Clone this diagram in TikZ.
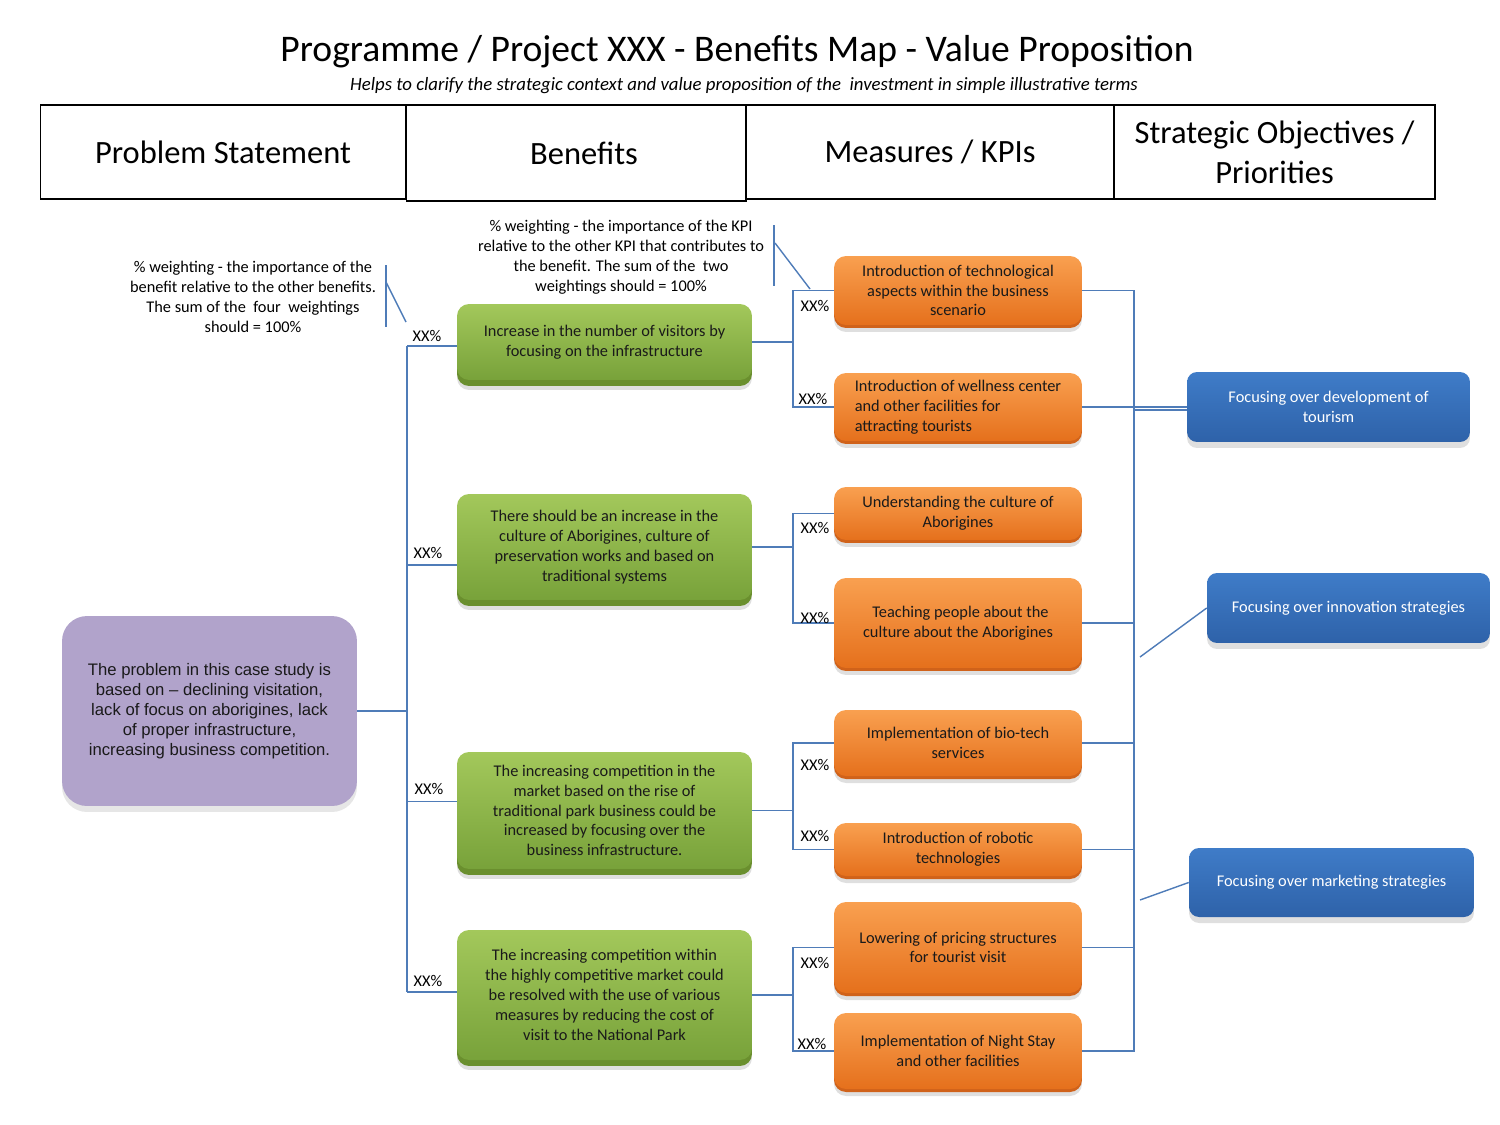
\documentclass[tikz,border=0pt]{standalone}
\usepackage{fontspec}
\setmainfont{Carlito}
\newfontfamily\arialfont{Liberation Sans}
\usetikzlibrary{positioning,shadows,calc}
\definecolor{linkblue}{HTML}{4F7CB8}
\definecolor{gtop}{HTML}{A3C85B}
\definecolor{gbot}{HTML}{78A23A}
\definecolor{gdark}{HTML}{6A8F2E}
\definecolor{otop}{HTML}{F9A050}
\definecolor{obot}{HTML}{E5701C}
\definecolor{odark}{HTML}{D0621A}
\definecolor{btop}{HTML}{3F7CC8}
\definecolor{bbot}{HTML}{2E62A9}
\definecolor{probfill}{HTML}{B1A3CB}
\definecolor{txt}{HTML}{1A1A1A}

\begin{document}
\begin{tikzpicture}[
  x=0.02cm, y=-0.02cm,
  hdr/.style={draw, line width=0.6pt, align=center, inner sep=0pt, font=\fontsize{18.5}{22.7}\selectfont},
  body/.style={align=center, text=txt, inner sep=2pt, font=\fontsize{9.3}{11.3}\selectfont},
  problem/.style={body, fill=probfill, rounded corners=0.5cm, minimum width=5.9cm, minimum height=3.8cm,
    font=\arialfont\fontsize{9.5}{11.3}\selectfont,
    drop shadow={opacity=0.2, shadow xshift=0, shadow yshift=-0.12cm}},
  benefit/.style={body, top color=gtop, bottom color=gbot, rounded corners=0.24cm, minimum width=5.9cm,
    drop shadow={opacity=0.25, shadow xshift=0, shadow yshift=-0.2cm},
    general shadow={fill=gdark, shadow yshift=-0.12cm}},
  kpi/.style={body, top color=otop, bottom color=obot, rounded corners=0.24cm, minimum width=4.96cm,
    drop shadow={opacity=0.25, shadow xshift=0, shadow yshift=-0.14cm},
    general shadow={fill=odark, shadow yshift=-0.06cm}},
  objective/.style={body, text=white, top color=btop, bottom color=bbot, rounded corners=0.2cm,
    minimum width=5.66cm, minimum height=1.4cm,
    drop shadow={opacity=0.25, shadow xshift=0, shadow yshift=-0.12cm}},
  note/.style={body, text=black},
  pct/.style={font=\fontsize{9.3}{11.3}\selectfont, inner sep=0pt},
  link/.style={draw=linkblue, line width=0.8pt}
]
\useasboundingbox (0,0) rectangle (1500,1125);

% title
\node[font=\fontsize{21.4}{25}\selectfont] (title) at (737,52) {Programme / Project XXX - Benefits Map - Value Proposition};
\node[font=\itshape\fontsize{10.7}{12.5}\selectfont] (subtitle) at (744,86) {Helps to clarify the strategic context and value proposition of the~ investment in simple illustrative terms};

% column headers
\node[hdr, minimum width=7.32cm, minimum height=1.88cm] (hprob) at (223,152) {Problem Statement};
\node[hdr, minimum width=6.8cm, minimum height=1.92cm] (hben) at (576,153) {\hspace{0.32cm}Benefits};
\node[hdr, minimum width=7.36cm, minimum height=1.88cm] (hkpi) at (930,152) {Measures / KPIs};
\node[hdr, minimum width=6.42cm, minimum height=1.88cm] (hobj) at (1274.5,152) {Strategic Objectives /\\Priorities};

% problem
\node[problem] (prob) at (209.5,711) {The problem in this case study is\\based on \textendash{} declining visitation,\\lack of focus on aborigines, lack\\of proper infrastructure,\\increasing business competition.};

% benefits
\node[benefit, minimum height=1.52cm] (ben1) at (604.5,342) {Increase in the number of visitors by\\focusing on the infrastructure};
\node[benefit, minimum height=2.12cm] (ben2) at (604.5,547) {There should be an increase in the\\culture of Aborigines, culture of\\preservation works and based on\\traditional systems};
\node[benefit, minimum height=2.34cm] (ben3) at (604.5,810.5) {The increasing competition in the\\market based on the rise of\\traditional park business could be\\increased by focusing over the\\business infrastructure.};
\node[benefit, minimum height=2.6cm] (ben4) at (604.5,995) {The increasing competition within\\the highly competitive market could\\be resolved with the use of various\\measures by reducing the cost of\\visit to the National Park};

% measures / KPIs
\node[kpi, minimum height=1.38cm] (kpi1) at (958,290.5) {Introduction of technological\\aspects within the business\\scenario};
\node[kpi, minimum height=1.36cm, align=left] (kpi2) at (958,407) {Introduction of wellness center\\and other facilities for\\attracting tourists};
\node[kpi, minimum height=1.06cm] (kpi3) at (958,513.5) {Understanding the culture of\\Aborigines};
\node[kpi, minimum height=1.8cm] (kpi4) at (958,623) {\hspace{0.1cm}Teaching people about the\\culture about the Aborigines};
\node[kpi, minimum height=1.32cm] (kpi5) at (958,743) {Implementation of bio-tech\\services};
\node[kpi, minimum height=1.06cm] (kpi6) at (958,849.5) {Introduction of robotic\\technologies};
\node[kpi, minimum height=1.82cm] (kpi7) at (958,947.5) {Lowering of pricing structures\\for tourist visit};
\node[kpi, minimum height=1.52cm] (kpi8) at (958,1051) {Implementation of Night Stay\\and other facilities};

% strategic objectives
\node[objective] (obj1) at (1328.5,407) {Focusing over development of\\tourism};
\node[objective] (obj2) at (1348.5,608) {Focusing over innovation strategies};
\node[objective, minimum width=5.7cm, minimum height=1.38cm] (obj3) at (1331.5,882.5) {Focusing over marketing strategies};

% weighting notes
\node[note] (noteben) at (253,297) {\% weighting - the importance of the\\benefit relative to the other benefits.\\The sum of the~ four~ weightings\\should = 100\%};
\node[note] (notekpi) at (621,257) {\% weighting - the importance of the KPI\\relative to the other KPI that contributes to\\the benefit. The sum of the~ two\\weightings should = 100\%};
\coordinate (barben) at (386,265);
\coordinate (tipben) at (406,322);
\coordinate (barkpi) at (774,225);
\coordinate (tipkpi) at (810,289);
\draw[link, line width=1pt] (barben) -- ++(0,62);
\draw[link] ($(barben)+(0,17)$) -- (tipben);
\draw[link, line width=1pt] (barkpi) -- ++(0,61);
\draw[link] ($(barkpi)+(1,18)$) -- (tipkpi);

% problem -> benefits
\coordinate (bbus) at (407,711);
\draw[link] (prob.east) -- (bbus);
\draw[link] (ben1.west -| bbus) ++(0,4) coordinate (bb1) -- ($(bb1 |- ben4.west)+(0,-3)$);
\foreach \b/\dy in {1/4, 2/18, 3/-9, 4/-3} {
  \draw[link] ($(ben\b.west -| bbus)+(0,\dy)$) -- ($(ben\b.west)+(0,\dy)$);
}
\foreach \n/\px/\py in {1/427/336, 2/428/553, 3/429/789, 4/428/981}
  \node[pct] (pb\n) at (\px,\py) {XX\%};

% benefits -> measures
\coordinate (kbus) at (793,0);
\foreach \b/\u/\l in {1/1/2, 2/3/4, 3/5/6, 4/7/8} {
  \draw[link] (ben\b.east) -- (ben\b.east -| kbus);
  \draw[link] (kpi\u.west) -- (kpi\u.west -| kbus) -- (kpi\l.west -| kbus) -- (kpi\l.west);
}
\foreach \n/\px/\py in {1/815/306, 2/813/399, 3/815/528, 4/815/618, 5/815/765, 6/815/836, 7/815/963, 8/812/1044}
  \node[pct] (pk\n) at (\px,\py) {XX\%};

% measures -> objectives
\coordinate (sbus) at (1134,0);
\draw[link] (kpi1.east) -- (kpi1.east -| sbus) -- (kpi8.east -| sbus) -- (kpi8.east);
\foreach \k in {2,4,5,6,7}
  \draw[link] (kpi\k.east) -- (kpi\k.east -| sbus);
\draw[link] (kpi2.east -| sbus) -- (obj1.west);
\draw[link] ($(kpi2.east -| sbus)+(0,3)$) -- ($(obj1.west)+(0,3)$);
\coordinate (lobj2) at (1140,657);
\coordinate (lobj3) at (1140,900);
\draw[link] (lobj2) -- (obj2.west);
\draw[link] (lobj3) -- (obj3.west);
\end{tikzpicture}
\end{document}
